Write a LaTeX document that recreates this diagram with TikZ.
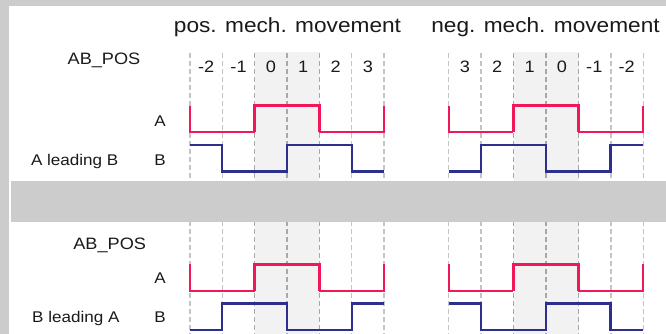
\documentclass[tikz,border=0pt]{standalone}
\usepackage{fontspec}
\setmainfont{Liberation Sans}[FakeStretch=1.1]
\definecolor{framegrey}{HTML}{CCCCCC}
\definecolor{shadegrey}{HTML}{F2F2F2}
\definecolor{gridgrey}{HTML}{C4C4C4}
\definecolor{gridgreydark}{HTML}{A8A8A8}
\definecolor{sigred}{HTML}{F01858}
\definecolor{sigblue}{HTML}{2D2F8E}
\definecolor{txt}{HTML}{1A1A1A}
\begin{document}
\begin{tikzpicture}[x=1pt,y=-1pt,
  grid/.style={draw=gridgrey, line width=1.2pt, dash pattern=on 5pt off 3pt},
  griddk/.style={grid, draw=gridgreydark},
  siga/.style={draw=sigred, line width=2pt},
  sigaem/.style={draw=sigred, line width=3pt},
  sigb/.style={draw=sigblue, line width=2.2pt},
  lbl/.style={inner sep=0pt, anchor=base, text=txt, font=\fontsize{15.5}{18}\selectfont},
  num/.style={lbl, font=\fontsize{16.5}{20}\selectfont},
  title/.style={lbl, font=\fontsize{20.6}{24}\selectfont},
  abpos/.style={lbl, font=\fontsize{16.5}{20}\selectfont},
]
\useasboundingbox (0,0) rectangle (666,334);
\fill[white] (0,0) rectangle (666,334);
% outer frame strips
\fill[framegrey] (0,0) rectangle (666,6);
\fill[framegrey] (0,0) rectangle (8.7,334);

% highlighted columns
\fill[shadegrey] (254.7,52) rectangle (319.3,334);
\fill[shadegrey] (513.5,52) rectangle (578.5,334);

% column separators
\foreach \x in {190,222.3,351.7,384,448.7,481,611,643.3}
  \draw[grid] (\x,53) -- (\x,334);
\foreach \x in {254.7,287,319.3,513.5,546,578.5}
  \draw[griddk] (\x,53) -- (\x,334);

% separating band
\fill[framegrey] (11,181) rectangle (666,222);

% ---- signal traces (column units) ----
\foreach \xo in {190,448.7}{
  \begin{scope}[xshift=\xo pt, x=32.35pt]
    % channel A, upper and lower
    \foreach \hi/\lo in {106/132,264/290.5}{
      \draw[siga] (0,\hi) -- (0,\lo) -- (2,\lo);
      \draw[sigaem] (2,\lo) -- (2,\hi) -- (4,\hi) -- (4,\lo);
      \draw[siga] (4,\lo) -- (6,\lo) -- (6,\hi);
    }
  \end{scope}
}
% channel B
\begin{scope}[xshift=190pt, x=32.35pt]
  \draw[sigb] (0,145) -- (1,145) -- (1,171.5) -- (3,171.5) -- (3,145) -- (5,145) -- (5,171.5) -- (6,171.5);
  \draw[sigb] (0,330) -- (1,330) -- (1,303.5) -- (3,303.5) -- (3,330) -- (5,330) -- (5,303.5) -- (6,303.5);
\end{scope}
\begin{scope}[xshift=448.7pt, x=32.35pt]
  \draw[sigb] (0,171.5) -- (1,171.5) -- (1,145) -- (3,145) -- (3,171.5) -- (5,171.5) -- (5,145) -- (6,145);
  \draw[sigb] (0,303.5) -- (1,303.5) -- (1,330) -- (3,330) -- (3,303.5) -- (5,303.5) -- (5,330) -- (6,330);
\end{scope}

% ---- texts ----
\node[title] (tpos) at (287.5,32.3) {pos. mech. movement};
\node[title] (tneg) at (545.5,32.3) {neg. mech. movement};

\node[abpos] (abup) at (104,65) {AB\_POS};
\node[abpos] (ablo) at (109.7,249) {AB\_POS};

\foreach \t [count=\i from 0] in {-2,-1,0,1,2,3}
  \node[num] (pn\i) at ({190+32.35*(\i+0.5)},72.3) {\t};
\foreach \t [count=\i from 0] in {3,2,1,0,-1,-2}
  \node[num] (nn\i) at ({448.7+32.35*(\i+0.5)},72.3) {\t};

\node[lbl] (aup) at (160,126) {A};
\node[lbl] (bup) at (160,165.7) {B};
\node[lbl] (lup) at (74.7,165.7) {A leading B};
\node[lbl] (alo) at (160,283.3) {A};
\node[lbl] (blo) at (160,322.7) {B};
\node[lbl] (llo) at (75.8,322.7) {B leading A};
\end{tikzpicture}
\end{document}
